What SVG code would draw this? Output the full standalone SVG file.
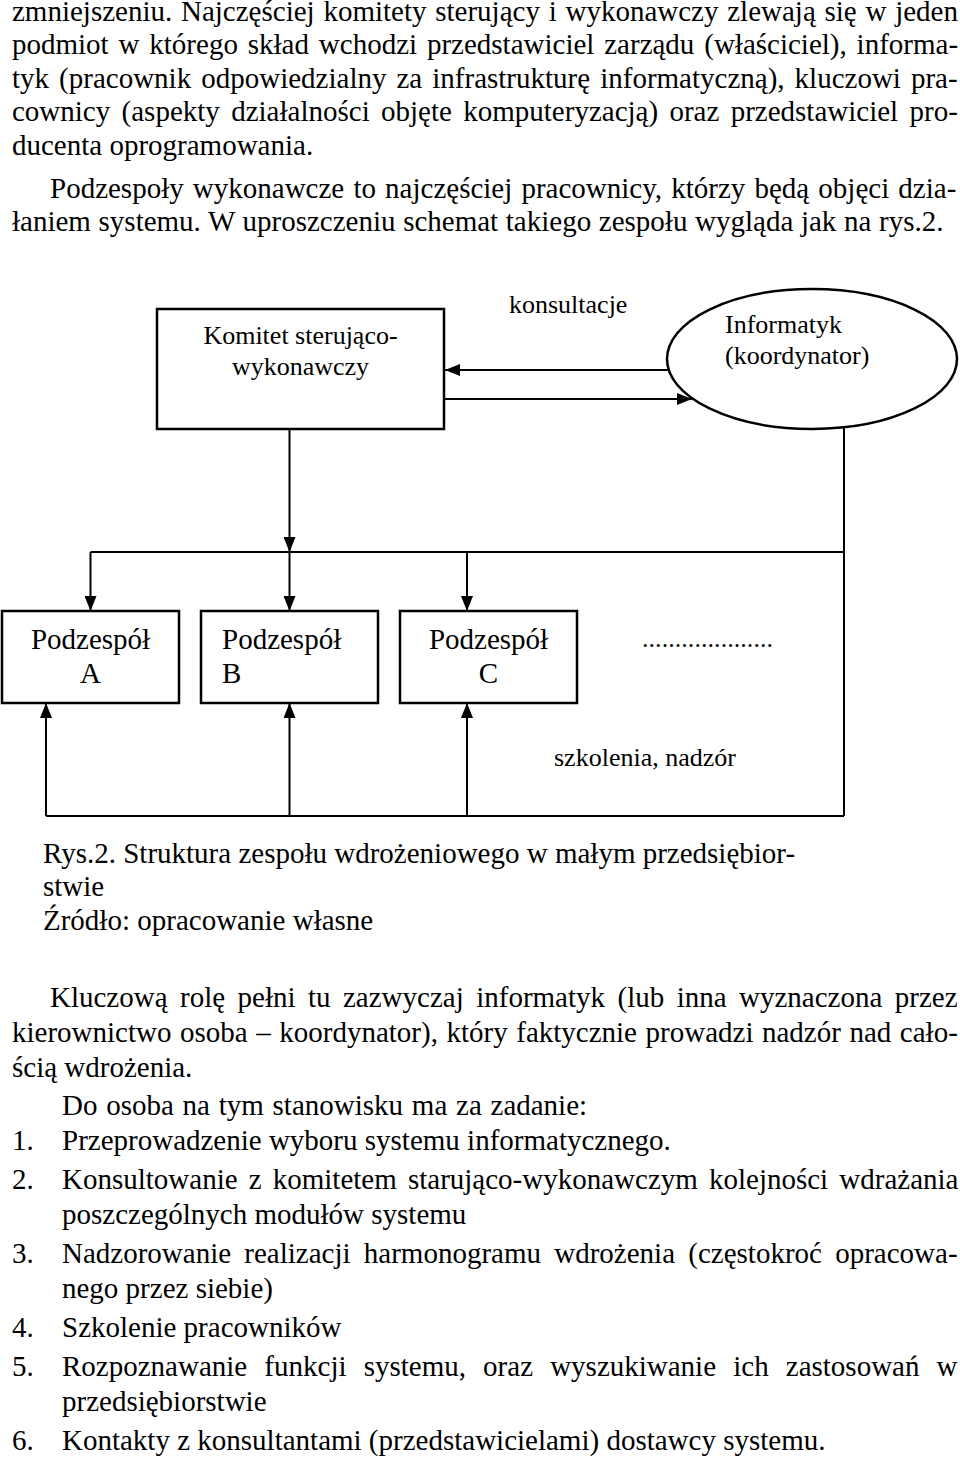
<svg xmlns="http://www.w3.org/2000/svg" width="960" height="1463" viewBox="0 0 960 1463">
<style>
text{font-family:"Liberation Serif","Times New Roman",serif;fill:#000}
.b{font-size:29px}
.d{font-size:26px}
.p{font-size:29px}
.box{fill:#fff;stroke:#000;stroke-width:2.5}
.ln{fill:none;stroke:#000;stroke-width:2}
</style>
<defs>
<marker id="ah" markerUnits="userSpaceOnUse" markerWidth="15" markerHeight="12" refX="15" refY="6" orient="auto">
<path d="M0,0 L15,6 L0,12 z" fill="#000"/>
</marker>
</defs>
<rect width="960" height="1463" fill="#fff"/>
<g id="text-top" class="b">
<text x="12" y="21" word-spacing="1.5">zmniejszeniu. Najczęściej komitety sterujący i wykonawczy zlewają się w jeden</text>
<text x="12" y="54" word-spacing="2.6">podmiot w którego skład wchodzi przedstawiciel zarządu (właściciel), informa-</text>
<text x="12" y="87.5" word-spacing="2.8">tyk (pracownik odpowiedzialny za infrastrukturę informatyczną), kluczowi pra-</text>
<text x="12" y="121" word-spacing="4.1">cownicy (aspekty działalności objęte komputeryzacją) oraz przedstawiciel pro-</text>
<text x="12" y="154.5">ducenta oprogramowania.</text>
<text x="50" y="197.5" word-spacing="1.9">Podzespoły wykonawcze to najczęściej pracownicy, którzy będą objęci dzia-</text>
<text x="12" y="230.5" word-spacing="0.4">łaniem systemu. W uproszczeniu schemat takiego zespołu wygląda jak na rys.2.</text>
</g>
<g id="connectors">
<line class="ln" x1="669" y1="370" x2="445" y2="370" marker-end="url(#ah)"/>
<line class="ln" x1="445" y1="399" x2="692" y2="399" marker-end="url(#ah)"/>
<line class="ln" x1="289.5" y1="429" x2="289.5" y2="552" marker-end="url(#ah)"/>
<line class="ln" x1="90.5" y1="552" x2="844" y2="552"/>
<line class="ln" x1="90.5" y1="552" x2="90.5" y2="611" marker-end="url(#ah)"/>
<line class="ln" x1="289.5" y1="552" x2="289.5" y2="611" marker-end="url(#ah)"/>
<line class="ln" x1="467" y1="552" x2="467" y2="611" marker-end="url(#ah)"/>
<line class="ln" x1="844" y1="427" x2="844" y2="816"/>
<line class="ln" x1="46" y1="816" x2="844" y2="816"/>
<line class="ln" x1="46" y1="816" x2="46" y2="703" marker-end="url(#ah)"/>
<line class="ln" x1="289.5" y1="816" x2="289.5" y2="703" marker-end="url(#ah)"/>
<line class="ln" x1="467" y1="816" x2="467" y2="703" marker-end="url(#ah)"/>
<text class="d" x="509" y="313">konsultacje</text>
<text class="d" x="554" y="766">szkolenia, nadzór</text>
</g>
<g id="komitet">
<rect class="box" x="157" y="309" width="287" height="120"/>
<text class="d" x="300.5" y="344" text-anchor="middle">Komitet sterująco-</text>
<text class="d" x="300.5" y="375" text-anchor="middle">wykonawczy</text>
</g>
<g id="informatyk">
<ellipse class="box" cx="812" cy="359" rx="145" ry="70"/>
<text class="d" x="725" y="333">Informatyk</text>
<text class="d" x="725" y="364">(koordynator)</text>
</g>
<g id="podzespol-a">
<rect class="box" x="2" y="611" width="177" height="92"/>
<text class="p" x="90.5" y="649" text-anchor="middle">Podzespół</text>
<text class="p" x="90.5" y="683" text-anchor="middle">A</text>
</g>
<g id="podzespol-b">
<rect class="box" x="201" y="611" width="177" height="92"/>
<text class="p" x="222" y="649">Podzespół</text>
<text class="p" x="222" y="683">B</text>
</g>
<g id="podzespol-c">
<rect class="box" x="400" y="611" width="177" height="92"/>
<text class="p" x="488.5" y="649" text-anchor="middle">Podzespół</text>
<text class="p" x="488.5" y="683" text-anchor="middle">C</text>
</g>
<g id="dots">
<text class="d" x="642" y="647" textLength="131" lengthAdjust="spacing">....................</text>
</g>
<g id="caption" class="b">
<text x="43" y="863">Rys.2. Struktura zespołu wdrożeniowego w małym przedsiębior-</text>
<text x="43" y="896">stwie</text>
<text x="43" y="930">Źródło: opracowanie własne</text>
</g>
<g id="text-bottom" class="b">
<text x="50" y="1007" word-spacing="5.2">Kluczową rolę pełni tu zazwyczaj informatyk (lub inna wyznaczona przez</text>
<text x="12" y="1042" word-spacing="1.3">kierownictwo osoba – koordynator), który faktycznie prowadzi nadzór nad cało-</text>
<text x="12" y="1077">ścią wdrożenia.</text>
<text x="62" y="1115" word-spacing="1.5">Do osoba na tym stanowisku ma za zadanie:</text>
<text x="12" y="1150">1.</text>
<text x="62" y="1150">Przeprowadzenie wyboru systemu informatycznego.</text>
<text x="12" y="1189">2.</text>
<text x="62" y="1189" word-spacing="3.9">Konsultowanie z komitetem starująco-wykonawczym kolejności wdrażania</text>
<text x="62" y="1224">poszczególnych modułów systemu</text>
<text x="12" y="1263">3.</text>
<text x="62" y="1263" word-spacing="6">Nadzorowanie realizacji harmonogramu wdrożenia (częstokroć opracowa-</text>
<text x="62" y="1298">nego przez siebie)</text>
<text x="12" y="1337">4.</text>
<text x="62" y="1337">Szkolenie pracowników</text>
<text x="12" y="1376">5.</text>
<text x="62" y="1376" word-spacing="9.9">Rozpoznawanie funkcji systemu, oraz wyszukiwanie ich zastosowań w</text>
<text x="62" y="1411">przedsiębiorstwie</text>
<text x="12" y="1450">6.</text>
<text x="62" y="1450">Kontakty z konsultantami (przedstawicielami) dostawcy systemu.</text>
</g>
</svg>
